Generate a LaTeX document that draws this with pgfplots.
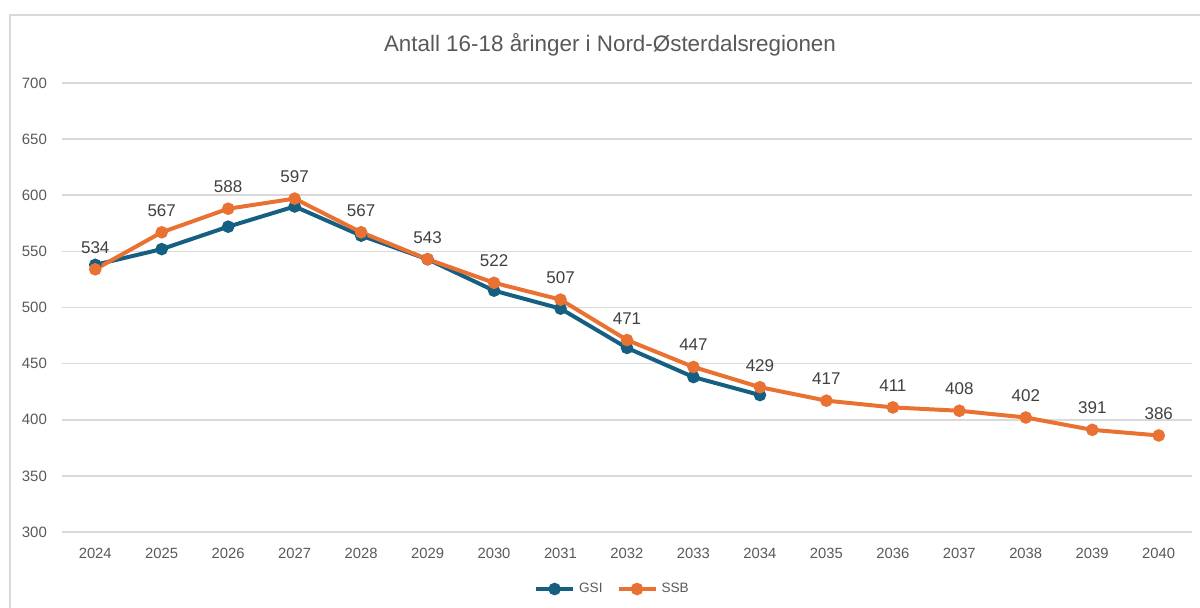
\documentclass[border=0pt]{standalone}
\usepackage{pgfplots}
\pgfplotsset{compat=1.18}
\usepackage{fontspec}
\setmainfont{Liberation Sans}
\definecolor{gsi}{HTML}{156082}
\definecolor{ssb}{HTML}{E97132}
\definecolor{txt}{HTML}{595959}
\definecolor{grd}{HTML}{D9D9D9}
\begin{document}
\begin{tikzpicture}
\useasboundingbox (0,0) rectangle (600pt,-304pt);
\draw[grd, line width=1pt] (5pt,-304pt) -- (5pt,-7.75pt) -- (600pt,-7.75pt);
\node[txt, font=\fontsize{11.2}{13}\selectfont] at (305pt,-22.5pt) {Antall 16-18 åringer i Nord-Østerdalsregionen};
\begin{axis}[
  at={(31pt,-266pt)}, anchor=south west,
  scale only axis, width=565pt, height=224.5pt,
  xmin=2023.5, xmax=2040.5, ymin=300, ymax=700,
  xtick={2024,...,2040}, ytick={300,350,...,700},
  xticklabel style={/pgf/number format/1000 sep={}, font=\fontsize{7.4}{8.5}\selectfont, text=txt, yshift=-4.5pt},
  yticklabel style={font=\fontsize{7.5}{9}\selectfont, text=txt, xshift=-4pt},
  /pgf/number format/assume math mode=true,
  axis line style={draw=none},
  major tick length=0pt,
  ymajorgrids, grid style={grd, line width=0.8pt},
  legend style={at={(0.488,-0.127)}, anchor=center, draw=none, fill=none, legend columns=2, font=\fontsize{6.8}{8}\selectfont, text=txt, inner sep=1pt, /tikz/every even column/.append style={column sep=5pt}},
  legend image code/.code={\draw[#1] (0pt,0pt) -- (18.5pt,0pt); \draw[#1, mark repeat=1] plot coordinates {(9.25pt,0pt)};},
]
\addplot[gsi, line width=2pt, mark=*, mark size=2.1pt] coordinates {
(2024,538) (2025,552) (2026,572) (2027,590) (2028,564) (2029,543) (2030,515) (2031,499) (2032,464) (2033,438) (2034,422)};
\addlegendentry{GSI}
\addplot[ssb, line width=2pt, mark=*, mark size=2.1pt,
  nodes near coords, point meta=explicit symbolic,
  every node near coord/.append style={font=\fontsize{8.5}{10}\selectfont, text=black!75, anchor=south, inner sep=0pt, yshift=7pt}] coordinates {
(2024,534) [534] (2025,567) [567] (2026,588) [588] (2027,597) [597] (2028,567) [567] (2029,543) [543] (2030,522) [522] (2031,507) [507] (2032,471) [471] (2033,447) [447] (2034,429) [429] (2035,417) [417] (2036,411) [411] (2037,408) [408] (2038,402) [402] (2039,391) [391] (2040,386) [386]};
\addlegendentry{SSB}
\end{axis}
\end{tikzpicture}
\end{document}
